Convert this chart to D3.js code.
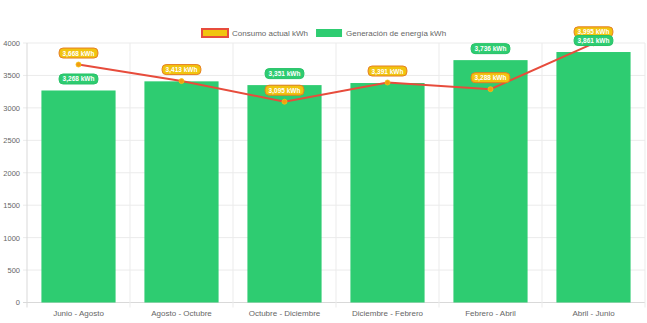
<!DOCTYPE html>
<html><head><meta charset="utf-8">
<script src="https://cdn.jsdelivr.net/npm/d3@7"></script>
<style>html,body{margin:0;padding:0;background:#fff;}svg{display:block;font-family:"Liberation Sans",Arial,Helvetica,sans-serif;}</style>
</head><body>
<svg id="c" width="647" height="323"></svg>
<script>
const categories = ["Junio - Agosto","Agosto - Octubre","Octubre - Diciembre","Diciembre - Febrero","Febrero - Abril","Abril - Junio"];
const consumo = [3668, 3413, 3095, 3391, 3288, 3995];
const generacion = [3268, 3409, 3351, 3383, 3736, 3861];
const yTicks = [0,500,1000,1500,2000,2500,3000,3500,4000];
const seriesNames = ["Consumo actual kWh","Generación de energía kWh"];

const svg = d3.select("#c");
const L = 27, R = 645, T = 43, B = 302.5;
const x = d3.scaleBand().domain(categories).range([L, R]).paddingInner(0).paddingOuter(0);
const y = d3.scaleLinear().domain([0, 4000]).range([B, T]);
const fmt = d3.format(",");

// grid
const g = svg.append("g");
g.selectAll("line.h").data(yTicks).enter().append("line")
  .attr("x1", L - 4).attr("x2", R).attr("y1", d => y(d)).attr("y2", d => y(d))
  .attr("stroke", d => d === 0 ? "#d9d9d9" : "#ebebeb").attr("stroke-width", 1);
const vlines = categories.map((c, i) => x(c)).concat([R]);
g.selectAll("line.v").data(vlines).enter().append("line")
  .attr("x1", d => d).attr("x2", d => d).attr("y1", T).attr("y2", B + 5)
  .attr("stroke", (d, i) => i === 0 ? "#d9d9d9" : "#ebebeb").attr("stroke-width", 1);

// y axis labels
const yAxis = d3.axisLeft(y).tickValues(yTicks).tickSize(0).tickPadding(0).tickFormat(d => d);
const ya = svg.append("g").attr("transform", `translate(${L - 7},0)`).call(yAxis);
ya.select(".domain").remove();
ya.selectAll("text").attr("fill", "#666").attr("font-size", "7.5px").attr("font-family", "Liberation Sans, Arial, sans-serif");

// x axis labels
const xAxis = d3.axisBottom(x).tickSize(0).tickPadding(0);
const xa = svg.append("g").attr("transform", `translate(0,${B + 8})`).call(xAxis);
xa.select(".domain").remove();
xa.selectAll("text").attr("fill", "#666").attr("font-size", "8px").attr("font-family", "Liberation Sans, Arial, sans-serif");

// bars
const bw = x.bandwidth() * 0.72;
svg.append("g").selectAll("rect").data(generacion).enter().append("rect")
  .attr("x", (d, i) => x(categories[i]) + (x.bandwidth() - bw) / 2)
  .attr("width", bw)
  .attr("y", d => y(d)).attr("height", d => B - y(d))
  .attr("fill", "#2ecc71");

// line
const cx = i => x(categories[i]) + x.bandwidth() / 2;
const line = d3.line().x((d, i) => cx(i)).y(d => y(d));
svg.append("path").datum(consumo).attr("d", line)
  .attr("fill", "none").attr("stroke", "#e74c3c").attr("stroke-width", 2);
svg.append("g").selectAll("circle").data(consumo).enter().append("circle")
  .attr("cx", (d, i) => cx(i)).attr("cy", d => y(d)).attr("r", 2.5)
  .attr("fill", "#f39c12").attr("stroke", "#f1c40f").attr("stroke-width", 0.8);

// labels
function label(parent, cxv, cyv, text, fill, stroke) {
  const gg = parent.append("g");
  const t = gg.append("text").attr("x", cxv).attr("y", cyv).attr("text-anchor", "middle")
    .attr("dominant-baseline", "central").attr("font-size", "6.5px").attr("font-weight", "bold")
    .attr("fill", "#fff").text(text);
  const w = t.node().getComputedTextLength() + 7;
  const h = 10;
  gg.insert("rect", "text").attr("x", cxv - w / 2).attr("y", cyv - h / 2).attr("width", w).attr("height", h)
    .attr("rx", 4).attr("ry", 4).attr("fill", fill).attr("stroke", stroke).attr("stroke-width", 1);
}
const lab = svg.append("g");
const off = 11.5;
consumo.forEach((v, i) => label(lab, cx(i), y(v) - off, fmt(v) + " kWh", "#f1c40f", "#e67e22"));
generacion.forEach((v, i) => {
  const dy = Math.abs(y(v) - y(consumo[i]));
  if (dy < 5) return; // hidden by overlap with the line label
  label(lab, cx(i), y(v) - off, fmt(v) + " kWh", "#2ecc71", "#27c267");
});

// legend
const lg = svg.append("g");
const items = [
  {name: seriesNames[0], fill: "#f1c40f", stroke: "#e74c3c", sw: 2},
  {name: seriesNames[1], fill: "#2ecc71", stroke: "#2ecc71", sw: 0}
];
let lx = 201;
items.forEach(it => {
  lg.append("rect").attr("x", lx + 1).attr("y", 29).attr("width", 26).attr("height", 8)
    .attr("fill", it.fill).attr("stroke", it.sw ? it.stroke : "none").attr("stroke-width", it.sw);
  const t = lg.append("text").attr("x", lx + 31).attr("y", 33).attr("dominant-baseline", "central")
    .attr("font-size", "8px").attr("fill", "#666").text(it.name);
  lx += 31 + t.node().getComputedTextLength() + 7;
});
</script>
</body></html>
